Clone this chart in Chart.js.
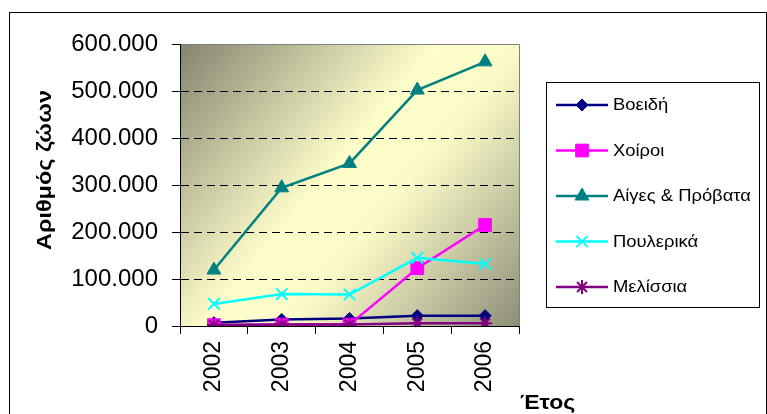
<!DOCTYPE html>
<html>
<head>
<meta charset="utf-8">
<script src="https://cdn.jsdelivr.net/npm/chart.js@4/dist/chart.umd.min.js"></script>
<style>
  html, body { margin: 0; padding: 0; background: #fff; }
  #wrap { width: 767px; height: 414px; position: relative; }
</style>
</head>
<body>
<div id="wrap"><canvas id="animalChart"></canvas></div>
<script>
var years = ['2002', '2003', '2004', '2005', '2006'];
var voeidi = [7000, 14000, 16000, 22000, 22000];
var xoiroi = [2000, 3000, 3000, 123000, 215000];
var aiges = [119000, 294000, 346000, 502000, 562000];
var poulerika = [47000, 68000, 67000, 145000, 132000];
var melissia = [2000, 3000, 3000, 6000, 6000];
var seriesNames = ['Βοειδή', 'Χοίροι', 'Αίγες & Πρόβατα', 'Πουλερικά', 'Μελίσσια'];
var yTitle = 'Αριθμός ζώων';
var xTitle = 'Έτος';

var FONT = 'Arial, "Liberation Sans", sans-serif';
Chart.defaults.font.family = FONT;

function fmt(v) {
    return String(v).replace(/\B(?=(\d{3})+(?!\d))/g, '.');
}

function series(i, data, color, style, radius) {
    return {
        label: seriesNames[i],
        data: data,
        borderColor: color,
        backgroundColor: color,
        borderWidth: 2.5,
        pointStyle: style,
        pointRadius: radius,
        pointBorderWidth: style === 'crossRot' || style === 'star' ? 2 : 1,
        pointBackgroundColor: color,
        pointBorderColor: color,
        tension: 0,
        order: 5 - i
    };
}

// text drawn a little wider, like the original rendering
function wideText(ctx, text, x, y, sx) {
    ctx.save();
    ctx.translate(x, y);
    ctx.scale(sx, 1);
    ctx.fillText(text, 0, 0);
    ctx.restore();
}

var decor = {
    id: 'decor',
    beforeDraw: function (chart) {
        var ctx = chart.ctx, a = chart.chartArea;
        ctx.save();
        ctx.fillStyle = '#fff';
        ctx.fillRect(0, 0, chart.width, chart.height);
        ctx.strokeStyle = '#000';
        ctx.lineWidth = 1;
        ctx.strokeRect(9.5, 12.5, 757, 420);
        var g = ctx.createLinearGradient(a.left, a.top, a.right, a.bottom);
        g.addColorStop(0, '#84846f');
        g.addColorStop(0.45, '#fefecb');
        g.addColorStop(0.6, '#fbfbc8');
        g.addColorStop(1, '#8e8e7a');
        ctx.fillStyle = g;
        ctx.fillRect(a.left, a.top, a.right - a.left, a.bottom - a.top);
        ctx.strokeStyle = '#808080';
        ctx.beginPath();
        ctx.moveTo(a.left, a.top + 0.5);
        ctx.lineTo(a.right + 0.5, a.top + 0.5);
        ctx.lineTo(a.right + 0.5, a.bottom);
        ctx.stroke();
        ctx.restore();
    },
    afterDraw: function (chart) {
        var ctx = chart.ctx;
        ctx.save();
        // axis titles
        ctx.fillStyle = '#000';
        ctx.font = 'bold 20px ' + FONT;
        ctx.textAlign = 'center';
        ctx.textBaseline = 'middle';
        ctx.save();
        ctx.translate(45, 170);
        ctx.rotate(-Math.PI / 2);
        wideText(ctx, yTitle, 0, 0, 1.17);
        ctx.restore();
        ctx.textAlign = 'left';
        ctx.textBaseline = 'alphabetic';
        wideText(ctx, xTitle, 520, 409, 1.15);

        // legend
        ctx.fillStyle = '#fff';
        ctx.fillRect(546, 82, 213, 225);
        ctx.strokeStyle = '#000';
        ctx.lineWidth = 1;
        ctx.strokeRect(546.5, 82.5, 213, 225);
        ctx.font = '16px ' + FONT;
        ctx.textBaseline = 'middle';
        chart.data.datasets.forEach(function (ds, i) {
            var y = 105 + i * 45.5;
            ctx.strokeStyle = ds.borderColor;
            ctx.lineWidth = 2.5;
            ctx.beginPath();
            ctx.moveTo(556, y);
            ctx.lineTo(608, y);
            ctx.stroke();
            ctx.fillStyle = ds.borderColor;
            ctx.lineWidth = ds.pointBorderWidth;
            Chart.helpers.drawPoint(ctx, {
                pointStyle: ds.pointStyle,
                radius: ds.pointRadius,
                rotation: 0,
                borderWidth: ds.pointBorderWidth
            }, 582, y);
            ctx.fillStyle = '#000';
            wideText(ctx, ds.label, 613, y + 1, 1.15);
        });
        ctx.restore();
    }
};

new Chart(document.getElementById('animalChart'), {
    type: 'line',
    data: {
        labels: years,
        datasets: [
            series(0, voeidi, '#000080', 'rectRot', 6),
            series(1, xoiroi, '#ff00ff', 'rect', 9),
            series(2, aiges, '#008080', 'triangle', 8),
            series(3, poulerika, '#00ffff', 'crossRot', 8),
            series(4, melissia, '#800080', 'star', 7)
        ]
    },
    options: {
        responsive: true,
        maintainAspectRatio: false,
        animation: false,
        layout: { padding: { left: 10, top: 44, right: 248, bottom: 0 } },
        plugins: { legend: { display: false }, tooltip: { enabled: false } },
        scales: {
            x: {
                offset: true,
                afterFit: function (s) { s.height = 88; },
                grid: { offset: true, drawOnChartArea: false, tickLength: 8, tickColor: '#000' },
                border: { color: '#000', width: 1 },
                ticks: { font: { size: 23 }, color: '#000', minRotation: 90, maxRotation: 90, padding: 7 }
            },
            y: {
                min: 0,
                max: 600000,
                afterFit: function (s) { s.width = 170; },
                ticks: {
                    stepSize: 100000,
                    font: { size: 24 },
                    color: '#000',
                    padding: 14,
                    callback: function (v) { return fmt(v); }
                },
                grid: {
                    color: function (c) {
                        return (c.tick && (c.tick.value === 0 || c.tick.value === 600000)) ? 'rgba(0,0,0,0)' : '#000';
                    },
                    tickColor: '#000',
                    tickLength: 8,
                    lineWidth: 1
                },
                border: { color: '#000', width: 1, dash: [8, 5] }
            }
        }
    },
    plugins: [decor]
});
</script>
</body>
</html>
